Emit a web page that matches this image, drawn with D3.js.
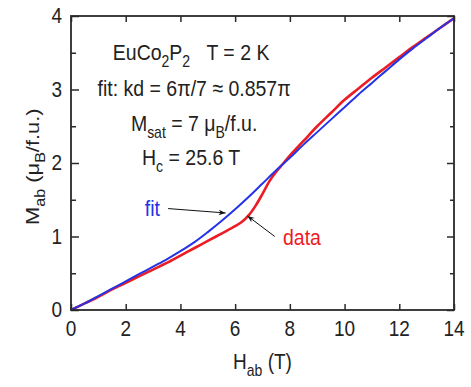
<!DOCTYPE html>
<html>
<head>
<meta charset="utf-8">
<script src="https://cdn.jsdelivr.net/npm/d3@7"></script>
<style>
  body { margin: 0; background: #fff; }
  svg { display: block; }
  text { font-family: "Liberation Sans", Arial, sans-serif; fill: #222; }
</style>
</head>
<body>
<svg id="chart" width="471" height="387"></svg>
<script>
// measured magnetization: field (T) and M (muB/f.u.)
const dataH = [0, 0.5, 1, 1.5, 2, 2.5, 3, 3.5, 4, 4.5, 5, 5.5, 6, 6.25, 6.5, 6.75, 7, 7.25, 7.5, 7.75,
               8, 8.5, 9, 9.5, 10, 10.5, 11, 11.5, 12, 12.5, 13, 13.5, 14];
const dataM = [0, 0.09, 0.18, 0.28, 0.37, 0.46, 0.55, 0.64, 0.74, 0.84, 0.94, 1.04, 1.14, 1.20, 1.29, 1.42, 1.58, 1.75, 1.88, 1.99,
               2.10, 2.30, 2.50, 2.68, 2.86, 3.01, 3.16, 3.30, 3.44, 3.58, 3.71, 3.84, 3.97];
// fit curve
const fitH = [0, 0.5, 1, 1.5, 2, 2.5, 3, 3.5, 4, 4.5, 5, 5.5, 6, 6.5, 7, 7.5,
              8, 8.5, 9, 9.5, 10, 10.5, 11, 11.5, 12, 12.5, 13, 13.5, 14];
const fitM = [0, 0.09, 0.19, 0.29, 0.39, 0.49, 0.59, 0.69, 0.80, 0.92, 1.06, 1.21, 1.37, 1.54, 1.72, 1.90,
              2.07, 2.25, 2.42, 2.59, 2.76, 2.93, 3.09, 3.25, 3.41, 3.56, 3.70, 3.84, 3.97];

const xTicks = [0, 2, 4, 6, 8, 10, 12, 14];
const yTicks = [0, 1, 2, 3, 4];
const yMinorTicks = [0.5, 1.5, 2.5, 3.5];

const width = 471, height = 387;
const margin = {top: 16, right: 17, bottom: 77, left: 71};
const textStretch = 1.15;

const svg = d3.select('#chart');

const x = d3.scaleLinear().domain([0, 14]).range([margin.left, width - margin.right]);
const y = d3.scaleLinear().domain([0, 4]).range([height - margin.bottom, margin.top]);

// text helper, slightly taller than wide like the original
function addText(px, py, anchor, size) {
  return svg.append('text')
    .attr('transform', `translate(${px},${py}) scale(1,${textStretch})`)
    .attr('text-anchor', anchor)
    .attr('font-size', size);
}

// curves
function curvePath(hs, ms) {
  return d3.line()
    .x((d, i) => x(hs[i]))
    .y(d => y(d))
    .curve(d3.curveCatmullRom.alpha(0.5))(ms);
}

svg.append('path')
  .attr('d', curvePath(dataH, dataM))
  .attr('fill', 'none')
  .attr('stroke', '#ec1c24')
  .attr('stroke-width', 2.6);

svg.append('path')
  .attr('d', curvePath(fitH, fitM))
  .attr('fill', 'none')
  .attr('stroke', '#2433e8')
  .attr('stroke-width', 2);

// axes, ticks pointing inward
const axisColor = '#2a2a2a';
const bottomAxis = d3.axisBottom(x).tickValues(xTicks).tickSize(-6).tickFormat('');
const topAxis = d3.axisTop(x).tickValues(xTicks).tickSize(-6).tickFormat('');
const leftMajor = d3.axisLeft(y).tickValues(yTicks).tickSize(-8).tickFormat('');
const leftMinor = d3.axisLeft(y).tickValues(yMinorTicks).tickSize(-5).tickFormat('');
const rightMajor = d3.axisRight(y).tickValues(yTicks).tickSize(-7).tickFormat('');
const rightMinor = d3.axisRight(y).tickValues(yMinorTicks).tickSize(-4).tickFormat('');

function drawAxis(gen, tx, ty) {
  const g = svg.append('g').attr('transform', `translate(${tx},${ty})`).call(gen);
  g.select('.domain').remove();
  g.selectAll('line').attr('stroke', axisColor).attr('stroke-width', 1.5);
}
drawAxis(bottomAxis, 0, y(0));
drawAxis(topAxis, 0, y(4));
drawAxis(leftMajor, x(0), 0);
drawAxis(leftMinor, x(0), 0);
drawAxis(rightMajor, x(14), 0);
drawAxis(rightMinor, x(14), 0);

svg.append('rect')
  .attr('x', x(0)).attr('y', y(4))
  .attr('width', x(14) - x(0)).attr('height', y(0) - y(4))
  .attr('fill', 'none')
  .attr('stroke', axisColor)
  .attr('stroke-width', 1.8);

// tick labels
xTicks.forEach(v => addText(x(v), y(0) + 26, 'middle', 19).text(v));
yTicks.forEach(v => addText(x(0) - 9, y(v) + 7, 'end', 19).text(v));

// axis titles
const xt = addText(x(7), 369, 'middle', 19);
xt.append('tspan').text('H');
xt.append('tspan').attr('font-size', 14).attr('dy', 6).text('ab');
xt.append('tspan').attr('dy', -6).text(' (T)');

const yt = svg.append('text')
  .attr('transform', `translate(39,${y(1.95)}) rotate(-90) scale(${textStretch},1)`)
  .attr('text-anchor', 'middle')
  .attr('font-size', 19);
yt.append('tspan').text('M');
yt.append('tspan').attr('font-size', 14).attr('dy', 6).text('ab');
yt.append('tspan').attr('dy', -6).text(' (\u03bc');
yt.append('tspan').attr('font-size', 14).attr('dy', 6).text('B');
yt.append('tspan').attr('dy', -6).text('/f.u.)');

// annotation block
const cx = x(4.5);
const t1 = addText(cx - 3, 60, 'middle', 19.5);
t1.append('tspan').text('EuCo');
t1.append('tspan').attr('font-size', 14).attr('dy', 6).text('2');
t1.append('tspan').attr('dy', -6).text('P');
t1.append('tspan').attr('font-size', 14).attr('dy', 6).text('2');
t1.append('tspan').attr('dy', -6).text('\u00a0\u00a0\u00a0T = 2 K');

addText(cx, 96, 'middle', 19.5).text('fit: kd = 6\u03c0/7 \u2248 0.857\u03c0');

const t3 = addText(cx, 131, 'middle', 19.5);
t3.append('tspan').text('M');
t3.append('tspan').attr('font-size', 14).attr('dy', 6).text('sat');
t3.append('tspan').attr('dy', -6).text(' = 7 \u03bc');
t3.append('tspan').attr('font-size', 14).attr('dy', 6).text('B');
t3.append('tspan').attr('dy', -6).text('/f.u.');

const t4 = addText(cx - 3, 165, 'middle', 19.5);
t4.append('tspan').text('H');
t4.append('tspan').attr('font-size', 14).attr('dy', 6).text('c');
t4.append('tspan').attr('dy', -6).text(' = 25.6 T');

// curve labels with arrows
svg.append('defs').append('marker')
  .attr('id', 'head')
  .attr('viewBox', '0 0 10 10')
  .attr('refX', 10).attr('refY', 5)
  .attr('markerWidth', 9).attr('markerHeight', 7)
  .attr('orient', 'auto')
  .append('path')
  .attr('d', 'M0,1 L10,5 L0,9 L3,5 Z')
  .attr('fill', '#111');

addText(x(2.7), 216, 'start', 19.5).style('fill', '#2433e8').text('fit');
svg.append('line')
  .attr('x1', x(3.55)).attr('y1', y(1.38))
  .attr('x2', x(5.65)).attr('y2', y(1.32))
  .attr('stroke', '#111').attr('stroke-width', 1)
  .attr('marker-end', 'url(#head)');

addText(x(7.75), 245, 'start', 19.5).style('fill', '#ec1c24').text('data');
svg.append('line')
  .attr('x1', x(7.45)).attr('y1', y(1.0))
  .attr('x2', x(6.45)).attr('y2', y(1.28))
  .attr('stroke', '#111').attr('stroke-width', 1)
  .attr('marker-end', 'url(#head)');
</script>
</body>
</html>
